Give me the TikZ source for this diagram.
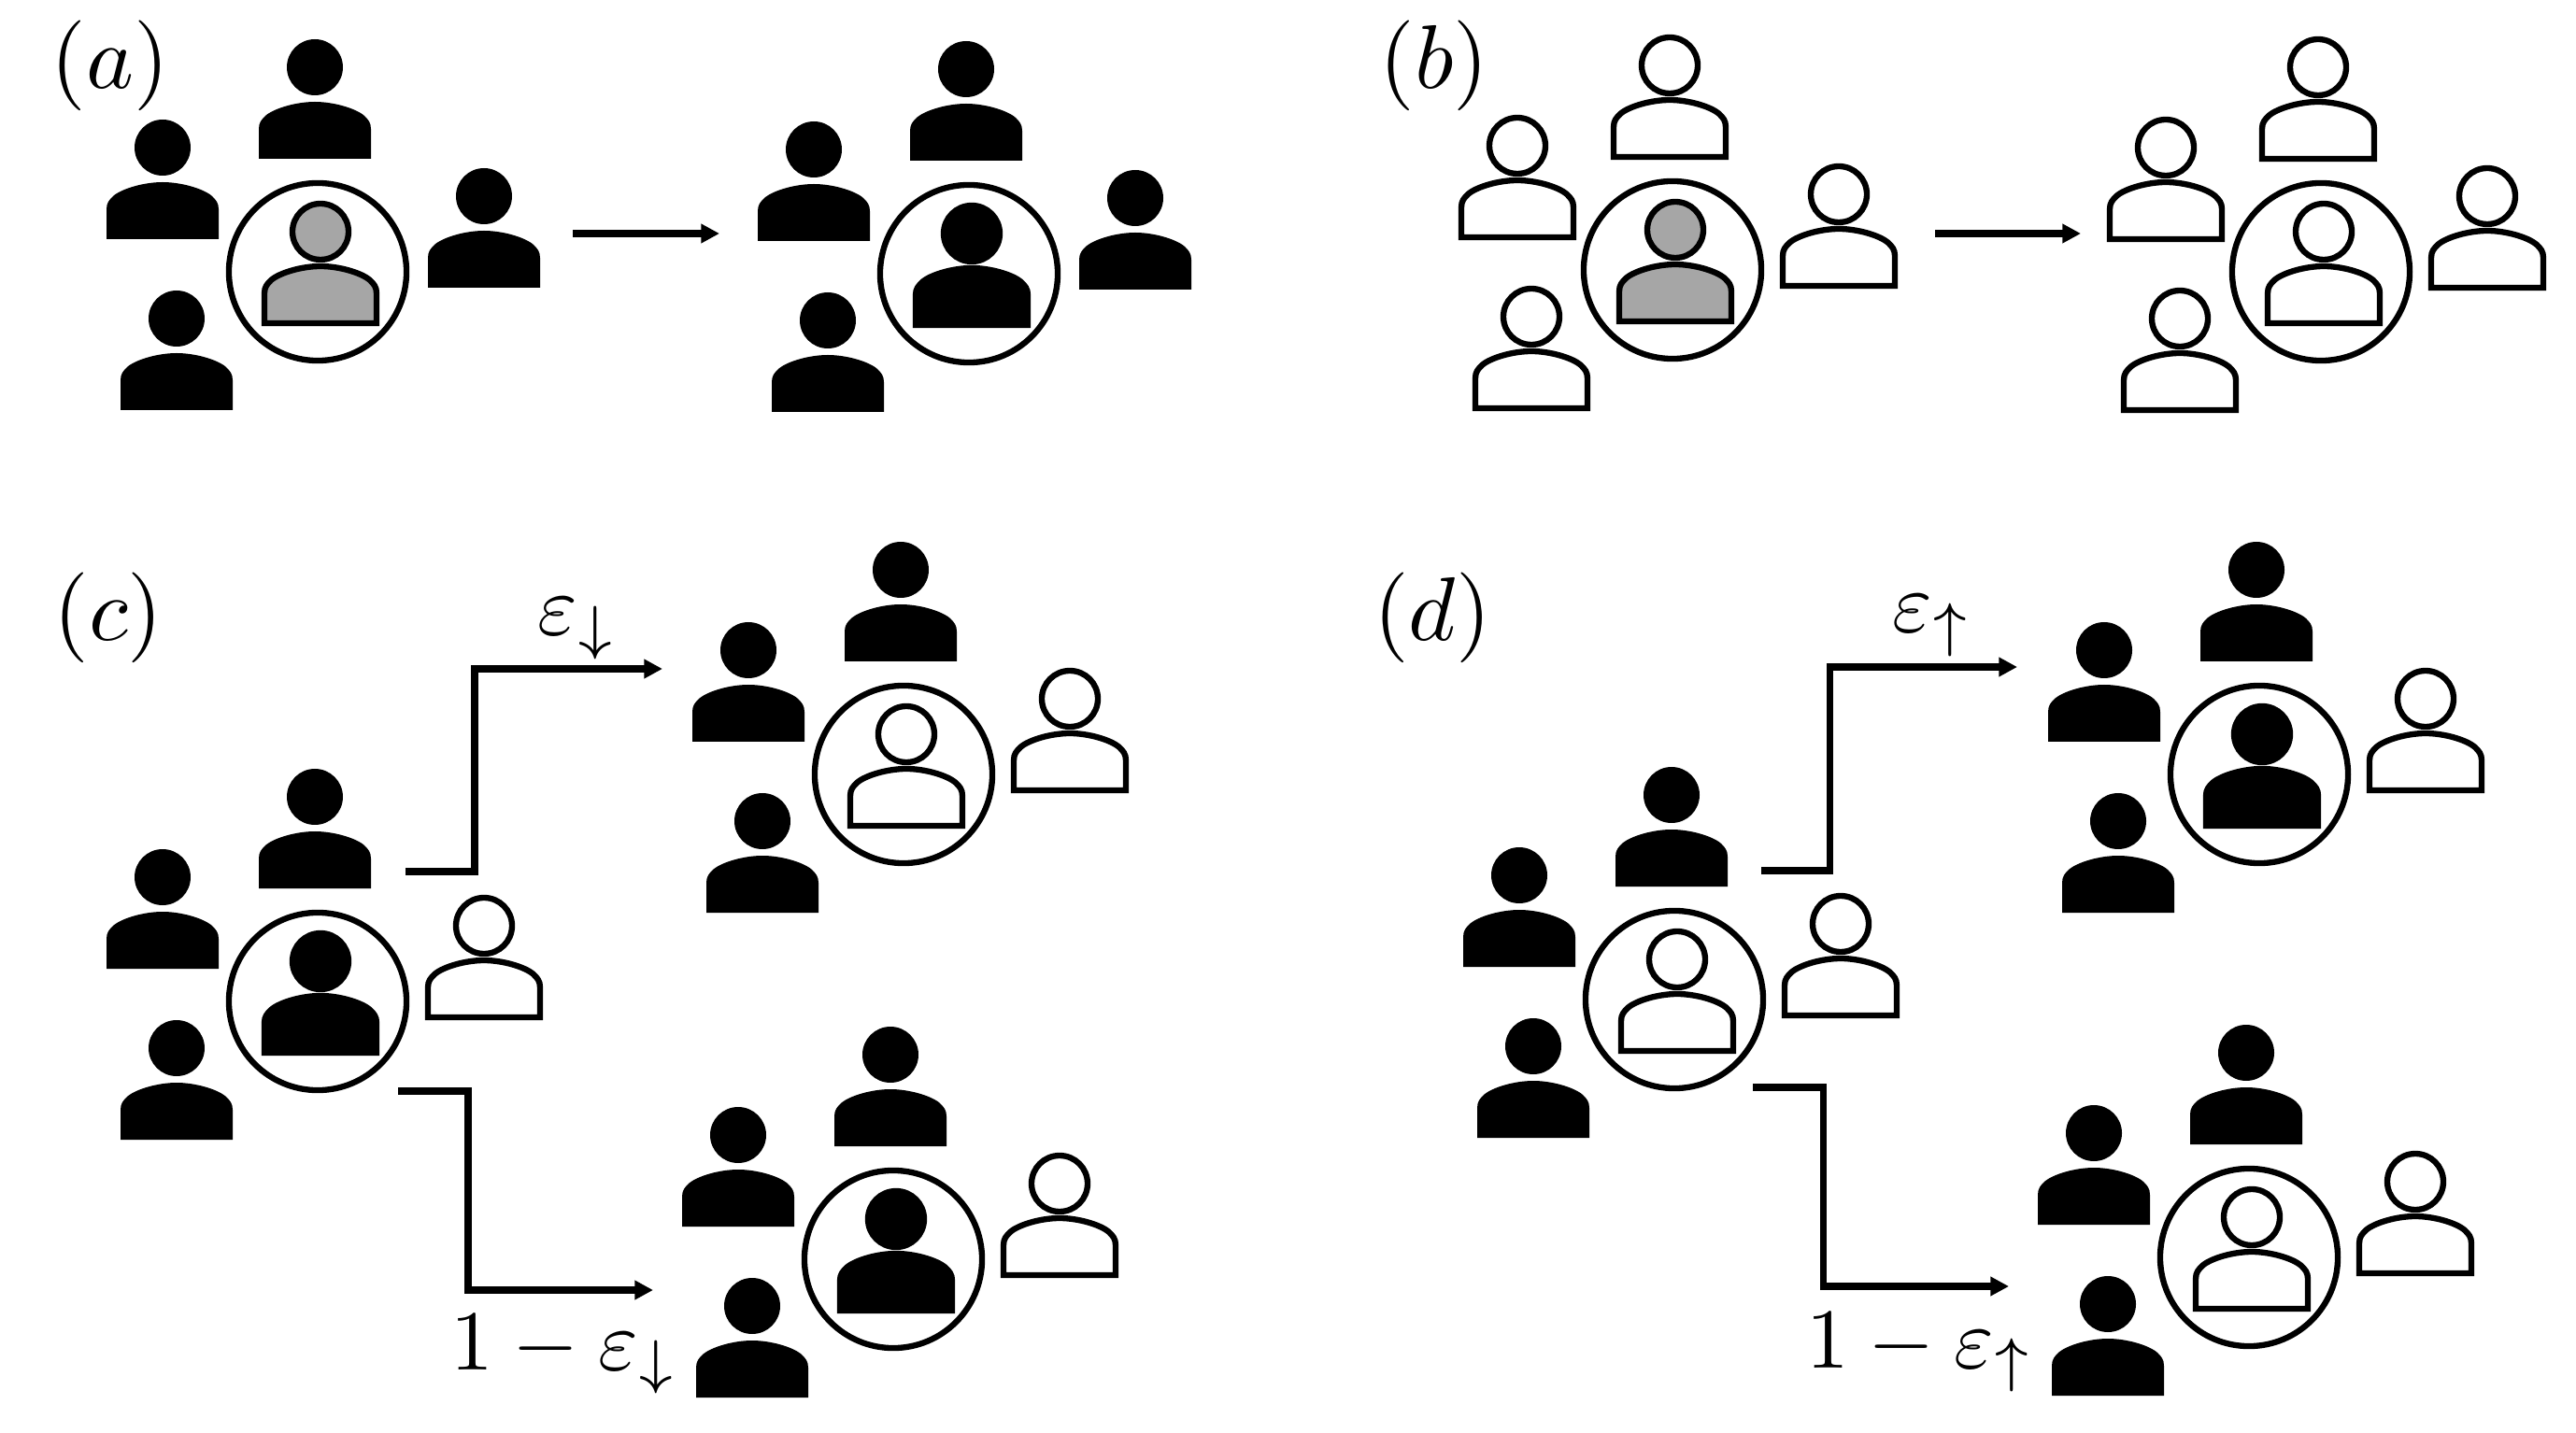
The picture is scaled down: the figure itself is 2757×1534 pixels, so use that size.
\documentclass[tikz,border=0pt]{standalone}
\usepackage{amsmath,amssymb}
\usepackage{tikz}
\usetikzlibrary{arrows.meta}
\definecolor{voterGray}{RGB}{166, 166, 166}
\tikzset{
  person/.pic={
    \path[pic actions] (0,0) circle [radius=30];
    \path[pic actions] (-60,98) -- (-60,66)
      .. controls (-60,59) and (-57,56) .. (-53,52)
      .. controls (-44,44) and (-20,37) .. (0,37)
      .. controls (20,37) and (44,44) .. (53,52)
      .. controls (57,56) and (60,59) .. (60,66)
      -- (60,98) -- cycle;
  },
  solidp/.style={fill=black},
  darkp/.style={draw=black, fill=black, line width=1.8pt},
  hollowp/.style={draw=black, fill=white, line width=1.8pt},
  grayp/.style={draw=black, fill=voterGray, line width=1.8pt},
  ring/.style={circle, draw=black, line width=1.8pt, minimum size=1.9cm, inner sep=0pt},
  flow/.style={draw=black, line width=2pt, -{Triangle[length=5.6pt, width=5.6pt]}},
  panel/.style={inner sep=0pt, scale=2.75},
  rate/.style={inner sep=0pt, anchor=base, scale=2.6},
}
\begin{document}
\begin{tikzpicture}[x=0.01cm, y=-0.01cm]
  \useasboundingbox (0,0) rectangle (2757,1534);

  % five voters around each ring
  \foreach \gname/\gx/\gy/\gmid/\gright/\gside in {
      aLeft/340/291/grayp/solidp/solidp,
      aRight/1037/293/darkp/solidp/solidp,
      bLeft/1790/289/grayp/hollowp/hollowp,
      bRight/2484/291/hollowp/hollowp/hollowp,
      cLeft/340/1072/darkp/hollowp/solidp,
      cUp/967/829/hollowp/hollowp/solidp,
      cDown/956/1348/darkp/hollowp/solidp,
      dLeft/1792/1070/hollowp/hollowp/solidp,
      dUp/2418/829/darkp/hollowp/solidp,
      dDown/2407/1346/hollowp/hollowp/solidp} {
    \begin{scope}[shift={(\gx,\gy)}]
      \node[ring] (\gname) at (0,0) {};
      \pic[\gside] (\gname top) at (-3,-219) {person};
      \pic[\gside] (\gname west) at (-166,-133) {person};
      \pic[\gside] (\gname south) at (-151,50) {person};
      \pic[\gright] (\gname east) at (178,-81) {person};
      \pic[\gmid] (\gname mid) at (3,-43) {person};
    \end{scope}
  }

  \node[panel] (labelA) at (118,70) {$(a)$};
  \node[panel] (labelB) at (1535,70) {$(b)$};
  \node[panel] (labelC) at (116,661) {$(c)$};
  \node[panel] (labelD) at (1533,661) {$(d)$};

  \coordinate (aFrom) at (613,250);
  \coordinate (aTo) at (770,250);
  \coordinate (bFrom) at (2071,250);
  \coordinate (bTo) at (2227,250);
  \draw[flow] (aFrom) -- (aTo);
  \draw[flow] (bFrom) -- (bTo);

  % branches of panel c
  \coordinate (cUpFrom) at (434,933);
  \coordinate (cUpBend) at (508,716);
  \coordinate (cUpTo) at (709,716);
  \coordinate (cDownFrom) at (426,1168);
  \coordinate (cDownBend) at (501,1381);
  \coordinate (cDownTo) at (699,1381);
  \draw[flow] (cUpFrom) -| (cUpBend) -- (cUpTo);
  \draw[flow] (cDownFrom) -| (cDownBend) -- (cDownTo);

  % branches of panel d
  \coordinate (dUpFrom) at (1885,932);
  \coordinate (dUpBend) at (1958,714);
  \coordinate (dUpTo) at (2159,714);
  \coordinate (dDownFrom) at (1876,1164);
  \coordinate (dDownBend) at (1951,1377);
  \coordinate (dDownTo) at (2150,1377);
  \draw[flow] (dUpFrom) -| (dUpBend) -- (dUpTo);
  \draw[flow] (dDownFrom) -| (dDownBend) -- (dDownTo);

  \node[rate] (rateCUp) at (618,680) {$\varepsilon_{\downarrow}$};
  \node[rate] (rateCDown) at (604,1466) {$1-\varepsilon_{\downarrow}$};
  \node[rate] (rateDUp) at (2068,677) {$\varepsilon_{\uparrow}$};
  \node[rate] (rateDDown) at (2055,1464) {$1-\varepsilon_{\uparrow}$};
\end{tikzpicture}
\end{document}
